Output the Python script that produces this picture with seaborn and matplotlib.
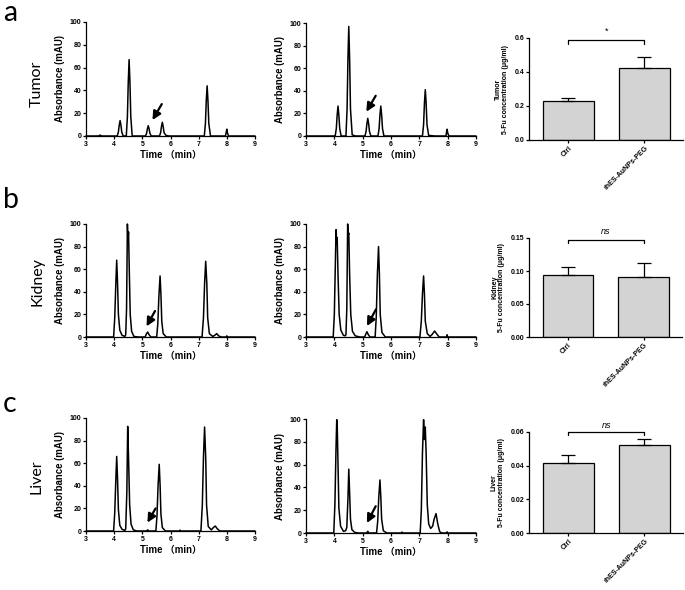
import matplotlib
matplotlib.use("Agg")
import matplotlib.pyplot as plt
import seaborn as sns
import pandas as pd

# ---------------- data ----------------
time_a1 = [3.0, 3.45, 3.5, 3.55,
           4.11, 4.15, 4.18, 4.21, 4.24, 4.27, 4.32,
           4.43, 4.47, 4.50, 4.53, 4.56, 4.59, 4.64,
           5.11, 5.15, 5.18, 5.21, 5.24, 5.27, 5.32,
           5.61, 5.65, 5.68, 5.71, 5.74, 5.77, 5.84, 5.95,
           7.20, 7.24, 7.27, 7.30, 7.33, 7.36, 7.42,
           7.95, 7.98, 8.00, 8.02, 8.06, 9.0]
abs_a1 = [0, 0, 0.8, 0,
          0, 3.5, 9.5, 13.5, 9.5, 3.5, 0,
          0, 17, 47, 67, 47, 17, 0,
          0, 2.2, 6.3, 9, 6.3, 2.2, 0,
          0, 3, 8.4, 12, 8.4, 3, 0.5, 0,
          0, 11, 31, 44, 31, 11, 0,
          0, 3.5, 6, 3, 0, 0]

time_a2 = [3.0,
           4.03, 4.07, 4.10, 4.13, 4.16, 4.19, 4.24,
           4.41, 4.45, 4.48, 4.51, 4.54, 4.57, 4.63, 4.75,
           5.08, 5.12, 5.15, 5.18, 5.21, 5.24, 5.29,
           5.54, 5.58, 5.61, 5.64, 5.67, 5.70, 5.75,
           7.11, 7.15, 7.18, 7.21, 7.24, 7.27, 7.33, 7.55,
           7.94, 7.96, 7.98, 8.00, 8.04, 9.0]
abs_a2 = [0,
          0, 6.6, 18.5, 26.5, 18.5, 6.6, 0,
          0, 24, 68, 97, 68, 24, 1, 0,
          0, 4, 11, 15.6, 11, 4, 0,
          0, 6.6, 18.5, 26.5, 18.5, 6.6, 0,
          0, 10, 29, 41, 29, 10, 0.5, 0,
          0, 3.5, 6, 3, 0, 0]

time_b1 = [3.0,
           3.98, 4.02, 4.06, 4.09, 4.12, 4.15, 4.20, 4.28, 4.38,
           4.41, 4.44, 4.47, 4.49, 4.51, 4.54, 4.57, 4.62, 4.70, 4.85,
           5.10, 5.14, 5.19, 5.24, 5.30,
           5.51, 5.55, 5.59, 5.63, 5.66, 5.69, 5.74, 5.85,
           7.12, 7.17, 7.21, 7.25, 7.29, 7.32, 7.38, 7.50,
           7.57, 7.64, 7.71, 7.80, 7.98, 8.00, 8.02, 9.0]
abs_b1 = [0,
          0, 17, 48, 68, 48, 20, 6, 1.5, 0.5,
          2, 25, 100, 86, 93, 55, 20, 5, 0.5, 0,
          0, 2.5, 4.4, 2, 0,
          0, 12, 37, 54, 38, 14, 3, 0,
          0, 17, 47, 67, 47, 17, 3, 0.5,
          1.5, 3, 1, 0, 0, 1, 0, 0]

time_b2 = [3.0,
           3.96, 4.00, 4.04, 4.06, 4.08, 4.10, 4.13, 4.17, 4.23, 4.32, 4.38,
           4.41, 4.44, 4.47, 4.49, 4.51, 4.54, 4.58, 4.64, 4.74, 4.90,
           5.07, 5.11, 5.15, 5.20, 5.26,
           5.44, 5.48, 5.52, 5.56, 5.59, 5.62, 5.68, 5.80,
           7.02, 7.07, 7.11, 7.15, 7.18, 7.21, 7.28, 7.38,
           7.46, 7.54, 7.62, 7.70, 7.96, 7.98, 8.00, 9.0]
abs_b2 = [0,
          0, 20, 70, 95, 86, 88, 55, 20, 6, 1.5, 1,
          2, 25, 100, 90, 92, 55, 20, 5, 1, 0,
          0, 2.5, 4.7, 2, 0,
          0, 18, 56, 80, 56, 20, 4, 0,
          0, 14, 38, 54, 38, 14, 3, 0.5,
          2.5, 5.3, 2.5, 0, 0, 2, 0, 0]

time_c1 = [3.0,
           3.98, 4.02, 4.06, 4.09, 4.12, 4.15, 4.20, 4.28, 4.38,
           4.41, 4.45, 4.48, 4.51, 4.55, 4.60, 4.68, 4.80,
           5.15, 5.19, 5.23,
           5.48, 5.52, 5.56, 5.60, 5.63, 5.66, 5.71, 5.82,
           6.32, 6.34, 6.36,
           7.08, 7.13, 7.17, 7.21, 7.25, 7.28, 7.34, 7.45,
           7.52, 7.59, 7.66, 7.75, 9.0]
abs_c1 = [0,
          0, 16, 46, 66, 46, 19, 5, 1.5, 0.5,
          2, 35, 92.6, 65, 23, 6, 1, 0,
          0, 1, 0,
          0, 13, 41, 59, 41, 15, 3, 0,
          0, 0.8, 0,
          0, 23, 65, 92, 65, 23, 4, 1,
          3, 4.4, 2, 0, 0]

time_c2 = [3.0,
           3.98, 4.02, 4.06, 4.085, 4.10, 4.13, 4.16, 4.22, 4.32, 4.40,
           4.44, 4.48, 4.51, 4.54, 4.57, 4.62, 4.72, 4.85,
           5.14, 5.18, 5.22,
           5.49, 5.53, 5.57, 5.61, 5.64, 5.67, 5.73, 5.85,
           6.36, 6.39, 6.42,
           7.03, 7.07, 7.11, 7.15, 7.18, 7.21, 7.24, 7.28, 7.33, 7.40,
           7.47, 7.52, 7.59, 7.65, 7.72, 7.80,
           7.96, 7.98, 8.00, 9.0]
abs_c2 = [0,
          0, 25, 75, 99.4, 97, 60, 22, 6, 1.5, 2,
          5, 30, 56, 35, 12, 3, 0.5, 0,
          0, 1.5, 0,
          0, 10, 32, 46.5, 32, 12, 2, 0,
          0, 0.8, 0,
          0, 20, 70, 99.4, 82, 93, 70, 25, 8, 4,
          6, 12, 17, 8, 1, 0,
          0, 1, 0, 0]

groups = ["Ctrl", "rhES-AuNPs-PEG"]
tumor_mean = [0.232, 0.423]
tumor_err = [0.013, 0.063]
kidney_mean = [0.094, 0.091]
kidney_err = [0.012, 0.021]
liver_mean = [0.0415, 0.0525]
liver_err = [0.0046, 0.0035]

row_labels = ["Tumor", "Kidney", "Liver"]
panel_letters = ["a", "b", "c"]
sig_labels = ["*", "ns", "ns"]
yticks_bar = [[0.0, 0.2, 0.4, 0.6], [0.00, 0.05, 0.10, 0.15], [0.00, 0.02, 0.04, 0.06]]
ytick_fmt = ["{:.1f}", "{:.2f}", "{:.2f}"]

# ---------------- style ----------------
sns.set_style("ticks")
plt.rcParams["font.family"] = ["Liberation Sans", "Noto Sans CJK SC"]
plt.rcParams["axes.linewidth"] = 0.9
for key in ["text.color", "axes.labelcolor", "xtick.color", "ytick.color", "axes.edgecolor"]:
    plt.rcParams[key] = "black"

W, H = 685, 590
fig = plt.figure(figsize=(W / 100, H / 100), dpi=100)


def rect(l, r, t, b):
    return [l / W, 1 - b / H, (r - l) / W, (b - t) / H]


chrom_data = [
    [(time_a1, abs_a1), (time_a2, abs_a2)],
    [(time_b1, abs_b1), (time_b2, abs_b2)],
    [(time_c1, abs_c1), (time_c2, abs_c2)],
]
chrom_rects = [
    [(86, 255, 22, 136), (306, 476, 23, 136)],
    [(86, 255, 224, 337), (306, 476, 224, 337)],
    [(86, 255, 418, 531), (306, 476, 419, 533)],
]
arrows = [
    [((5.69, 28), (5.36, 14)), ((5.46, 35.6), (5.13, 21.5))],
    [((5.45, 23), (5.15, 9.4)), ((5.47, 24.5), (5.15, 9.7))],
    [((5.47, 20), (5.18, 7.4)), ((5.46, 23.5), (5.15, 8.8))],
]
bar_rects = [(529, 683, 38, 140), (529, 682, 238, 337), (529, 683, 432, 533)]
bar_means = [tumor_mean, kidney_mean, liver_mean]
bar_errs = [tumor_err, kidney_err, liver_err]
brackets = [(0.588, 0.566, 0.615), (0.147, 0.1425, 0.153), (0.0600, 0.0585, 0.0613)]
row_label_y = [84, 282, 477]
letter_y = [21, 208, 412]

tick_fs = 5.0
for r in range(3):
    for c in range(2):
        ax = fig.add_axes(rect(*chrom_rects[r][c]))
        t, a = chrom_data[r][c]
        df = pd.DataFrame({"Time": t, "Abs": a})
        sns.lineplot(data=df, x="Time", y="Abs", ax=ax, color="black", linewidth=1.1,
                     sort=False, estimator=None)
        for ln in ax.lines:
            ln.set_clip_on(False)
        ax.set_xlim(3, 9)
        ax.set_ylim(0, 100)
        ax.set_xticks(range(3, 10))
        ax.set_yticks(range(0, 101, 20))
        ax.tick_params(length=2.2, width=0.9, pad=1.2, labelsize=tick_fs)
        for lab in ax.get_xticklabels() + ax.get_yticklabels():
            lab.set_fontweight("bold")
        ax.set_xlabel("Time （min）", fontsize=6.9, fontweight="bold", labelpad=2)
        ax.set_ylabel("Absorbance (mAU)", fontsize=6.9, fontweight="bold", labelpad=3)
        sns.despine(ax=ax)
        (tx, ty), (hx, hy) = arrows[r][c]
        ax.annotate("", xy=(hx, hy), xytext=(tx, ty),
                    arrowprops=dict(arrowstyle="-|>,head_length=0.5,head_width=0.25",
                                    color="black", lw=1.6, shrinkA=0, shrinkB=0))

    # bar chart
    ax = fig.add_axes(rect(*bar_rects[r]))
    sns.barplot(x=groups, y=bar_means[r], ax=ax, color="#d3d3d3", saturation=1,
                edgecolor="black", linewidth=0.9, width=0.67, errorbar=None)
    ax.errorbar([0, 1], bar_means[r], yerr=[[0, 0], bar_errs[r]], fmt="none",
                ecolor="black", elinewidth=0.9, capsize=4.8, capthick=0.9, zorder=3)
    ax.set_xlim(-0.52, 1.51)
    yt = yticks_bar[r]
    ax.set_ylim(0, yt[-1])
    ax.set_yticks(yt)
    ax.set_yticklabels([ytick_fmt[r].format(v) for v in yt], fontweight="bold")
    ax.tick_params(length=2.2, width=0.9, pad=1.2, labelsize=tick_fs)
    ax.set_xticks([0, 1])
    ax.set_xticklabels(groups, rotation=45, ha="right", rotation_mode="anchor",
                       fontweight="bold", fontsize=tick_fs)
    ax.set_ylabel(row_labels[r] + "\n5-Fu concentration (μg/ml)", fontsize=5.0,
                  fontweight="bold", labelpad=4, linespacing=1.0)
    sns.despine(ax=ax)
    top, leg, txt = brackets[r]
    ax.plot([0, 0, 1, 1], [leg, top, top, leg], color="black", lw=0.9, clip_on=False)
    if sig_labels[r] == "*":
        ax.text(0.5, txt, "*", ha="center", va="bottom", fontsize=6.5)
    else:
        ax.text(0.5, txt, "ns", ha="center", va="bottom", fontsize=6.5, style="italic")

    fig.text(37 / W, 1 - row_label_y[r] / H, row_labels[r], rotation=90, ha="center",
             va="center", fontsize=11.5, family=["Lato", "DejaVu Sans"])
    fig.text(3 / W, 1 - letter_y[r] / H, panel_letters[r], ha="left", va="baseline",
             fontsize=20.5, family=["Lato", "DejaVu Sans"])

fig.savefig("out.png", dpi=100)
